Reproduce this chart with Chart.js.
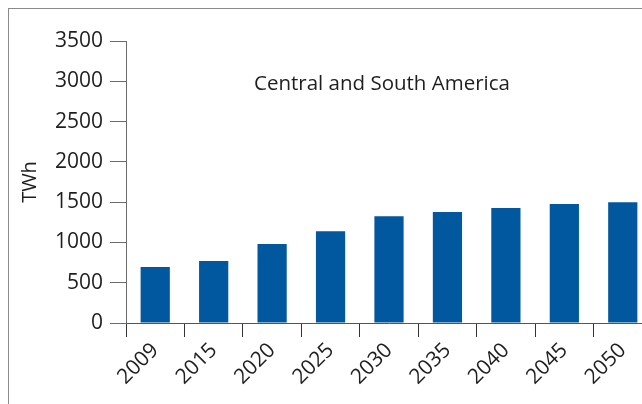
<!DOCTYPE html>
<html>
<head>
<meta charset="utf-8">
<title>Central and South America</title>
<script src="https://cdn.jsdelivr.net/npm/chart.js@4.4.1/dist/chart.umd.min.js"></script>
<style>
  html, body { margin: 0; padding: 0; overflow: hidden; background: #fff; }
  #frame {
    position: absolute; left: 8px; top: 8px;
    width: 720px; height: 480px;
    border: 1px solid #8a8a8a;
  }
  #wrap { position: absolute; left: 0; top: 0; width: 662px; height: 404px; }
</style>
</head>
<body>
<div id="frame"></div>
<div id="wrap"><canvas id="chart"></canvas></div>
<script>
// Data
const years = ['2009', '2015', '2020', '2025', '2030', '2035', '2040', '2045', '2050'];
const demandTWh = [695, 770, 980, 1140, 1325, 1378, 1428, 1476, 1500];
const yTicks = [0, 500, 1000, 1500, 2000, 2500, 3000, 3500];

const chartTitle = 'Central and South America';
const FONT = "'Open Sans', 'Noto Sans', sans-serif";
const TEXT = '#1e1e1e';
const AXIS = '#6b6b6b';

// Title sits inside the plot area, like the original figure
const insideTitle = {
  id: 'insideTitle',
  afterDraw(chart) {
    const { ctx, chartArea } = chart;
    ctx.save();
    ctx.font = `20.5px ${FONT}`;
    ctx.fillStyle = TEXT;
    ctx.textAlign = 'center';
    ctx.textBaseline = 'middle';
    ctx.fillText(chartTitle, chartArea.left + 256, chartArea.top + 43);
    ctx.restore();
  },
};

new Chart(document.getElementById('chart'), {
  type: 'bar',
  data: {
    labels: years,
    datasets: [{
      label: 'TWh',
      data: demandTWh,
      backgroundColor: '#02589e',
      borderWidth: 0,
      barPercentage: 0.5,
      categoryPercentage: 1.0,
    }],
  },
  options: {
    responsive: true,
    maintainAspectRatio: false,
    animation: false,
    layout: { padding: { left: 8, top: 41, right: 10, bottom: 0 } },
    plugins: {
      legend: { display: false },
      tooltip: { enabled: false },
    },
    scales: {
      x: {
        afterFit(scale) { scale.height = 81; },
        grid: {
          offset: true,
          drawOnChartArea: false,
          drawTicks: true,
          tickLength: 14,
          color: '#333',
        },
        border: { color: '#555', width: 1 },
        ticks: {
          minRotation: 45,
          maxRotation: 45,
          padding: 1,
          color: TEXT,
          font: { family: FONT, size: 21 },
        },
      },
      y: {
        min: 0,
        max: 3500,
        afterFit(scale) { scale.width = 118; },
        afterBuildTicks(scale) { scale.ticks = yTicks.map(v => ({ value: v })); },
        grid: {
          drawOnChartArea: false,
          drawTicks: true,
          tickLength: 16,
          color: AXIS,
        },
        border: { color: AXIS, width: 1 },
        ticks: {
          padding: 7,
          color: TEXT,
          font: { family: FONT, size: 21 },
          callback: (value) => String(value),
        },
        title: {
          display: true,
          text: 'TWh',
          color: TEXT,
          font: { family: FONT, size: 20 },
          padding: { top: 10, bottom: 0 },
        },
      },
    },
  },
  plugins: [insideTitle],
});
</script>
</body>
</html>
